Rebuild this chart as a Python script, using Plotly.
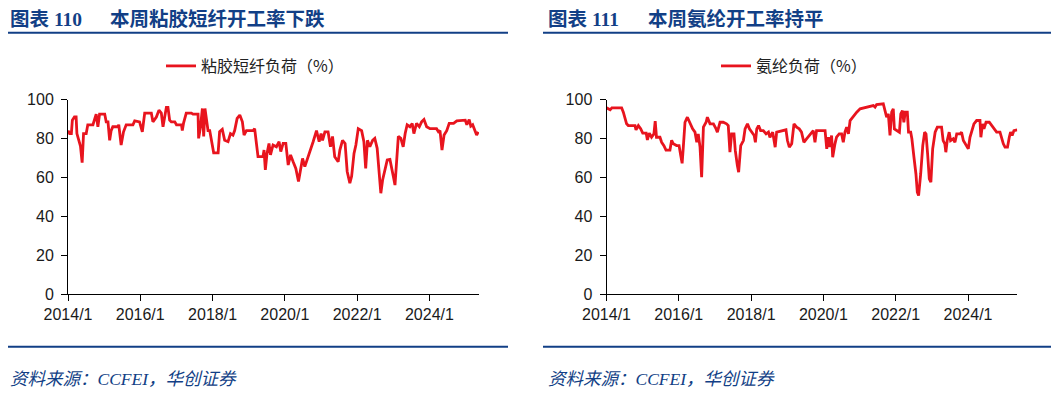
import plotly.graph_objects as go

W, H = 1059, 393          # browser window
OFF = 8                   # default page body margin
FW, FH = W - OFF, H - OFF # figure size that fits the window exactly

# ---------------- data ----------------
viscose_dates = [
    "2014-01-01", "2014-01-17", "2014-02-04", "2014-02-14", "2014-03-07", "2014-03-24", "2014-04-01",
    "2014-04-21", "2014-05-07", "2014-05-24", "2014-06-07", "2014-07-04", "2014-07-20", "2014-09-10",
    "2014-09-27", "2014-10-13", "2014-10-30", "2014-11-16", "2015-01-07", "2015-01-22", "2015-02-09",
    "2015-02-26", "2015-03-13", "2015-03-30", "2015-05-19", "2015-05-29", "2015-06-22", "2015-07-16",
    "2015-08-12", "2015-10-19", "2015-11-06", "2015-12-25", "2016-01-22", "2016-02-15", "2016-04-22",
    "2016-05-08", "2016-06-12", "2016-07-08", "2016-08-01", "2016-08-18", "2016-09-04", "2016-09-21",
    "2016-10-07", "2016-10-24", "2016-11-10", "2016-12-15", "2017-01-01", "2017-02-21", "2017-03-01",
    "2017-03-13", "2017-04-10", "2017-06-01", "2017-06-17", "2017-08-07", "2017-08-13", "2017-09-01",
    "2017-09-20", "2017-10-03", "2017-10-16", "2017-11-01", "2017-11-16", "2017-12-03", "2017-12-19",
    "2018-01-12", "2018-02-26", "2018-03-13", "2018-04-09", "2018-05-03", "2018-06-06", "2018-07-01",
    "2018-07-26", "2018-08-12", "2018-09-06", "2018-10-03", "2018-10-29", "2018-11-15", "2018-12-09",
    "2019-02-15", "2019-03-02", "2019-03-18", "2019-04-05", "2019-05-25", "2019-06-05", "2019-06-18",
    "2019-07-05", "2019-07-25", "2019-08-09", "2019-09-04", "2019-10-08", "2019-11-04", "2019-11-21",
    "2019-12-15", "2020-01-11", "2020-02-04", "2020-02-28", "2020-03-25", "2020-04-21", "2020-05-18",
    "2020-06-07", "2020-06-28", "2020-07-21", "2020-08-25", "2020-09-17", "2020-10-13", "2020-11-16",
    "2020-12-13", "2021-01-01", "2021-01-16", "2021-02-09", "2021-03-13", "2021-04-06", "2021-04-27",
    "2021-05-19", "2021-06-23", "2021-07-10", "2021-08-06", "2021-09-01", "2021-09-22", "2021-10-19",
    "2021-11-06", "2021-11-30", "2021-12-19", "2022-01-12", "2022-02-15", "2022-03-10", "2022-03-28",
    "2022-04-15", "2022-05-09", "2022-06-06", "2022-06-28", "2022-07-22", "2022-08-12", "2022-08-28",
    "2022-09-15", "2022-10-09", "2022-11-01", "2022-11-28", "2022-12-18", "2023-01-01", "2023-01-18",
    "2023-02-03", "2023-02-21", "2023-03-18", "2023-04-11", "2023-05-01", "2023-05-21", "2023-06-18",
    "2023-07-11", "2023-07-28", "2023-08-24", "2023-09-21", "2023-10-14", "2023-11-07", "2023-12-04",
    "2024-01-07", "2024-03-13", "2024-04-01", "2024-04-17", "2024-05-07", "2024-05-28", "2024-06-24",
    "2024-07-19", "2024-09-01", "2024-10-04", "2024-12-28", "2025-01-13", "2025-02-06", "2025-02-22",
    "2025-03-13", "2025-04-06", "2025-04-22", "2025-05-09",
]
viscose_values = [
    84.0, 82.5, 82.5, 89.4, 91.0, 91.0, 82.5,
    79.0, 76.0, 67.5, 82.5, 82.5, 87.0, 87.0,
    90.0, 92.5, 86.0, 92.5, 92.5, 88.5, 88.5,
    79.0, 84.0, 86.0, 86.0, 87.0, 76.6, 83.4,
    87.0, 87.0, 89.0, 88.5, 83.4, 93.0, 93.0,
    88.5, 91.0, 94.5, 93.0, 86.0, 91.0, 96.0,
    96.0, 89.4, 88.5, 88.5, 87.0, 87.0, 84.0,
    87.7, 93.0, 93.0, 92.5, 92.5, 80.0, 86.0,
    95.4, 81.0, 95.4, 87.7, 84.0, 84.0, 79.0,
    72.6, 72.6, 83.4, 84.6, 79.0, 78.3, 82.5,
    81.7, 84.0, 90.3, 92.0, 88.5, 81.7, 84.0,
    84.0, 85.0, 79.0, 70.6, 70.6, 74.0, 63.8,
    72.3, 77.4, 71.5, 76.6, 75.7, 78.3, 73.2,
    77.4, 77.4, 66.3, 71.5, 68.0, 64.6, 57.8,
    63.8, 69.7, 65.5, 70.6, 74.9, 78.3, 84.0,
    78.3, 82.5, 79.0, 83.4, 83.4, 75.7, 81.0,
    70.6, 68.0, 74.0, 79.0, 77.4, 63.0, 57.0,
    60.5, 72.3, 76.6, 85.0, 84.0, 78.3, 64.6,
    79.0, 75.7, 79.0, 80.0, 74.9, 63.8, 51.8,
    58.6, 64.6, 68.9, 69.2, 63.0, 60.5, 56.0,
    70.6, 81.0, 80.0, 75.7, 82.5, 87.0, 86.0,
    87.7, 82.5, 87.7, 86.0, 88.5, 89.7, 86.0,
    85.0, 85.0, 83.4, 84.0, 74.0, 81.7, 84.0,
    87.7, 87.7, 89.0, 89.4, 87.0, 89.7, 86.3,
    87.0, 84.0, 81.7, 83.4,
]

spandex_dates = [
    "2014-01-01", "2014-02-07", "2014-02-24", "2014-06-03", "2014-06-20", "2014-07-06", "2014-07-23",
    "2014-08-09", "2014-10-16", "2014-10-26", "2014-11-19", "2014-12-12", "2015-01-02", "2015-02-06",
    "2015-02-18", "2015-03-09", "2015-04-01", "2015-04-25", "2015-05-08", "2015-05-21", "2015-06-25",
    "2015-07-12", "2015-08-04", "2015-08-25", "2015-10-04", "2015-10-21", "2015-11-07", "2015-12-10",
    "2016-01-04", "2016-01-21", "2016-02-04", "2016-02-17", "2016-03-04", "2016-03-28", "2016-04-24",
    "2016-05-20", "2016-06-13", "2016-07-01", "2016-07-16", "2016-08-03", "2016-08-19", "2016-09-06",
    "2016-10-03", "2016-10-16", "2016-11-12", "2016-12-16", "2017-01-12", "2017-01-25", "2017-02-21",
    "2017-03-25", "2017-04-28", "2017-05-15", "2017-06-01", "2017-06-18", "2017-07-12", "2017-07-25",
    "2017-08-15", "2017-08-28", "2017-09-18", "2017-10-15", "2017-11-01", "2017-11-25", "2017-12-15",
    "2018-01-07", "2018-02-01", "2018-02-13", "2018-02-27", "2018-03-17", "2018-04-07", "2018-05-04",
    "2018-06-01", "2018-06-25", "2018-07-10", "2018-08-07", "2018-09-01", "2018-09-16", "2018-12-19",
    "2019-01-03", "2019-01-22", "2019-02-15", "2019-03-10", "2019-04-06", "2019-05-02", "2019-05-25",
    "2019-06-18", "2019-07-15", "2019-08-19", "2019-09-21", "2019-10-08", "2019-10-24", "2020-01-18",
    "2020-02-04", "2020-02-21", "2020-03-07", "2020-03-24", "2020-04-04", "2020-04-27", "2020-05-13",
    "2020-06-09", "2020-07-03", "2020-07-20", "2020-08-06", "2020-08-23", "2020-09-10", "2020-09-27",
    "2020-11-01", "2020-12-03", "2021-01-06", "2021-03-12", "2021-04-16", "2021-05-19", "2021-06-06",
    "2021-06-22", "2021-08-28", "2021-09-15", "2021-10-01", "2021-10-18", "2021-11-04", "2021-11-21",
    "2021-12-07", "2021-12-18", "2022-01-11", "2022-02-07", "2022-02-21", "2022-03-10", "2022-03-24",
    "2022-04-07", "2022-04-28", "2022-05-10", "2022-06-01", "2022-06-13", "2022-07-04", "2022-07-24",
    "2022-08-07", "2022-08-20", "2022-09-10", "2022-10-01", "2022-10-20", "2022-11-03", "2022-11-19",
    "2022-12-06", "2022-12-22", "2023-01-09", "2023-02-03", "2023-02-25", "2023-04-09", "2023-04-25",
    "2023-05-12", "2023-05-22", "2023-06-05", "2023-06-25", "2023-07-09", "2023-08-05", "2023-08-22",
    "2023-09-09", "2023-10-12", "2023-10-28", "2023-11-15", "2023-12-12", "2024-01-04", "2024-01-21",
    "2024-02-06", "2024-03-01", "2024-03-28", "2024-05-01", "2024-05-10", "2024-05-27", "2024-06-10",
    "2024-07-01", "2024-08-03", "2024-08-27", "2024-09-20", "2024-10-16", "2024-11-19", "2024-12-06",
    "2024-12-23", "2025-01-09", "2025-02-03", "2025-02-21", "2025-03-06", "2025-03-22", "2025-04-09",
    "2025-05-12",
]
spandex_values = [
    95.7, 94.7, 95.7, 95.7, 93.5, 90.0, 87.5,
    86.6, 86.6, 84.4, 86.6, 85.0, 82.7, 82.7,
    79.2, 82.7, 80.6, 82.3, 88.9, 80.6, 80.6,
    78.0, 76.3, 74.0, 74.0, 79.0, 77.2, 76.3,
    76.3, 71.2, 67.2, 76.3, 88.3, 90.9, 87.5,
    84.9, 83.2, 78.0, 82.3, 75.5, 60.0, 85.8,
    88.3, 90.9, 87.5, 87.5, 84.9, 83.2, 88.3,
    88.3, 87.5, 86.6, 72.9, 82.3, 82.3, 73.8,
    66.0, 62.6, 76.3, 78.9, 84.9, 87.5, 84.9,
    83.2, 81.5, 78.0, 84.9, 86.6, 84.0, 84.0,
    82.3, 83.2, 80.6, 83.2, 75.5, 83.2, 84.4,
    78.9, 75.5, 77.2, 87.5, 85.8, 84.9, 83.2,
    78.0, 79.8, 82.3, 84.0, 78.0, 84.0, 84.0,
    74.6, 80.6, 75.5, 81.5, 70.3, 77.2, 80.6,
    82.3, 82.3, 78.0, 83.2, 85.8, 82.3, 89.2,
    91.8, 93.5, 95.2, 96.1, 96.6, 96.9, 96.1,
    97.4, 97.8, 94.3, 90.9, 92.6, 81.5, 93.5,
    95.2, 84.9, 84.0, 83.2, 92.6, 94.3, 88.3,
    93.5, 93.5, 83.2, 83.2, 79.8, 70.3, 61.7,
    52.3, 50.6, 61.7, 76.3, 83.2, 82.3, 72.0,
    59.2, 57.5, 74.6, 83.2, 85.8, 85.8, 78.9,
    77.2, 72.9, 78.9, 83.2, 78.9, 79.8, 78.0,
    82.3, 82.3, 83.2, 78.9, 76.3, 74.6, 80.6,
    83.2, 87.5, 89.2, 89.2, 80.6, 87.5, 84.9,
    88.3, 88.3, 86.6, 84.9, 83.2, 83.2, 79.8,
    77.2, 75.5, 75.5, 80.6, 83.2, 81.5, 84.0,
    84.4,
]

chart_numbers = ["图表 110", "图表 111"]
chart_titles = ["本周粘胶短纤开工率下跌", "本周氨纶开工率持平"]
series_names = ["粘胶短纤负荷（%）", "氨纶负荷（%）"]
source_text = "资料来源：CCFEI，华创证券"
y_ticks = [0, 20, 40, 60, 80, 100]
x_tick_dates = ["2014-01-01", "2016-01-01", "2018-01-01", "2020-01-01", "2022-01-01", "2024-01-01"]
x_tick_labels = ["2014/1", "2016/1", "2018/1", "2020/1", "2022/1", "2024/1"]

# ---------------- styling ----------------
RED = "#E8141E"
NAVY = "#123F86"
TICK_FONT = dict(family="Liberation Sans, Arial, sans-serif", size=16, color="#1a1a1a")
TITLE_FAMILY = "Liberation Serif, Noto Sans CJK SC, serif"


def px(x):
    """screen pixel x -> paper fraction"""
    return max(0.0, min(1.0, (x - OFF) / FW))


def py(y):
    """screen pixel y -> paper fraction"""
    return max(0.0, min(1.0, 1 - (y - OFF) / FH))


fig = go.Figure()
fig.add_trace(go.Scatter(x=viscose_dates, y=viscose_values, mode="lines", name=series_names[0],
                         line=dict(color=RED, width=2.8), xaxis="x", yaxis="y", legend="legend"))
fig.add_trace(go.Scatter(x=spandex_dates, y=spandex_values, mode="lines", name=series_names[1],
                         line=dict(color=RED, width=2.8), xaxis="x2", yaxis="y2", legend="legend2"))

panels = [
    dict(x0=68, x1=479, xend="2025-05-16", line_l=6, line_r=508, text_x=8, leg_x=161),
    dict(x0=606.5, x1=1017.3, xend="2025-05-13", line_l=543, line_r=1059, text_x=546, leg_x=716),
]

common_x = dict(type="date", tickmode="array", tickvals=x_tick_dates, ticktext=x_tick_labels,
                ticks="outside", ticklen=6, tickcolor="black", tickwidth=1, showline=True,
                linecolor="black", linewidth=1, showgrid=False, zeroline=False, tickfont=TICK_FONT,
                automargin=False)
common_y = dict(range=[0, 100], tickmode="array", tickvals=y_ticks, ticks="outside", ticklen=6,
                tickcolor="black", tickwidth=1, showline=True, linecolor="black", linewidth=1,
                showgrid=False, zeroline=False, tickfont=TICK_FONT, automargin=False,
                ticklabelstandoff=4)

layout = dict(width=FW, height=FH, autosize=False,
              margin=dict(l=0, r=0, t=0, b=0, pad=0, autoexpand=False),
              paper_bgcolor="white", plot_bgcolor="white", showlegend=True)

shapes = []
annotations = []
for i, p in enumerate(panels):
    sfx = "" if i == 0 else str(i + 1)
    layout["xaxis" + sfx] = dict(common_x, domain=[px(p["x0"]), px(p["x1"])],
                                 range=["2014-01-01", p["xend"]], anchor="y" + sfx)
    layout["yaxis" + sfx] = dict(common_y, domain=[py(294), py(99.5)], anchor="x" + sfx)
    layout["legend" + sfx] = dict(x=px(p["leg_x"]), y=py(66), xanchor="left", yanchor="middle",
                                  orientation="h", bgcolor="rgba(0,0,0,0)",
                                  font=dict(family="Noto Sans CJK SC, sans-serif", size=16, color="#222"))
    for yy in (32.7, 346.7):
        shapes.append(dict(type="line", xref="paper", yref="paper",
                           x0=px(p["line_l"]), x1=px(p["line_r"]), y0=py(yy), y1=py(yy),
                           line=dict(color=NAVY, width=2)))
    annotations.append(dict(xref="paper", yref="paper", x=px(p["text_x"]), y=py(19),
                            xanchor="left", yanchor="middle", showarrow=False,
                            text="<b>" + chart_numbers[i] + "</b>",
                            font=dict(family=TITLE_FAMILY, size=19.5, color=NAVY)))
    annotations.append(dict(xref="paper", yref="paper", x=px(p["text_x"] + 100), y=py(19),
                            xanchor="left", yanchor="middle", showarrow=False,
                            text="<b>" + chart_titles[i] + "</b>",
                            font=dict(family=TITLE_FAMILY, size=19.5, color=NAVY)))
    annotations.append(dict(xref="paper", yref="paper", x=px(p["text_x"]), y=py(379),
                            xanchor="left", yanchor="middle", showarrow=False,
                            text="<i>" + source_text + "</i>",
                            font=dict(family=TITLE_FAMILY, size=17.5, color=NAVY)))

layout["shapes"] = shapes
layout["annotations"] = annotations
fig.update_layout(**layout)
fig.write_html("out.html")
